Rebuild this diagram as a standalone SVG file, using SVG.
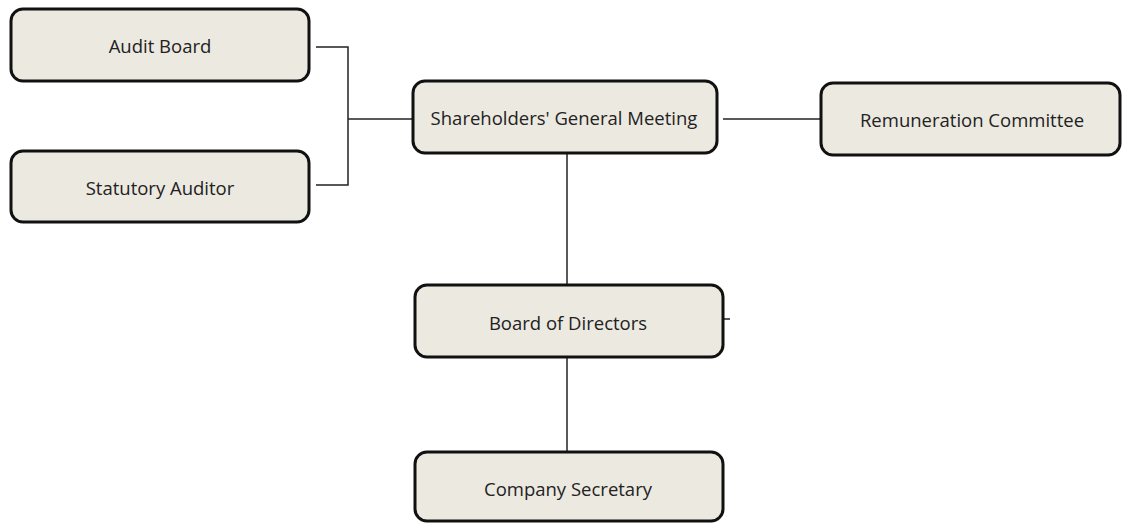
<svg xmlns="http://www.w3.org/2000/svg" width="1122" height="523" viewBox="0 0 1122 523">
<style>
.box{fill:#ECE9E1;stroke:#111;stroke-width:3}
.lbl{font-family:"Open Sans","Liberation Sans",sans-serif;font-size:18.5px;fill:#222;text-anchor:middle;dominant-baseline:central}
.ln{stroke:#222;stroke-width:1.5;fill:none}
</style>
<rect width="1122" height="523" fill="#fff"/>
<g id="connectors">
<polyline class="ln" points="316,47 348,47 348,185 316,185"/>
<line class="ln" x1="348" y1="119" x2="413" y2="119"/>
<line class="ln" x1="723" y1="119" x2="820" y2="119"/>
<line class="ln" x1="567" y1="153" x2="567" y2="285"/>
<line class="ln" x1="567" y1="357" x2="567" y2="452"/>
<line class="ln" x1="724" y1="319" x2="730" y2="319"/>
</g>
<g id="audit-board"><rect class="box" x="11" y="9" width="298" height="72" rx="12"/><text class="lbl" x="160" y="45">Audit Board</text></g>
<g id="statutory-auditor"><rect class="box" x="11" y="151" width="298" height="71" rx="12"/><text class="lbl" x="160" y="187">Statutory Auditor</text></g>
<g id="shareholders"><rect class="box" x="413" y="81" width="304" height="72" rx="12"/><text class="lbl" x="564" y="117">Shareholders' General Meeting</text></g>
<g id="remuneration"><rect class="box" x="821" y="83" width="299" height="72" rx="12"/><text class="lbl" x="972" y="119">Remuneration Committee</text></g>
<g id="board"><rect class="box" x="415" y="285" width="308" height="72" rx="12"/><text class="lbl" x="568" y="322">Board of Directors</text></g>
<g id="secretary"><rect class="box" x="415" y="452" width="308" height="69" rx="12"/><text class="lbl" x="568" y="488">Company Secretary</text></g>
</svg>
